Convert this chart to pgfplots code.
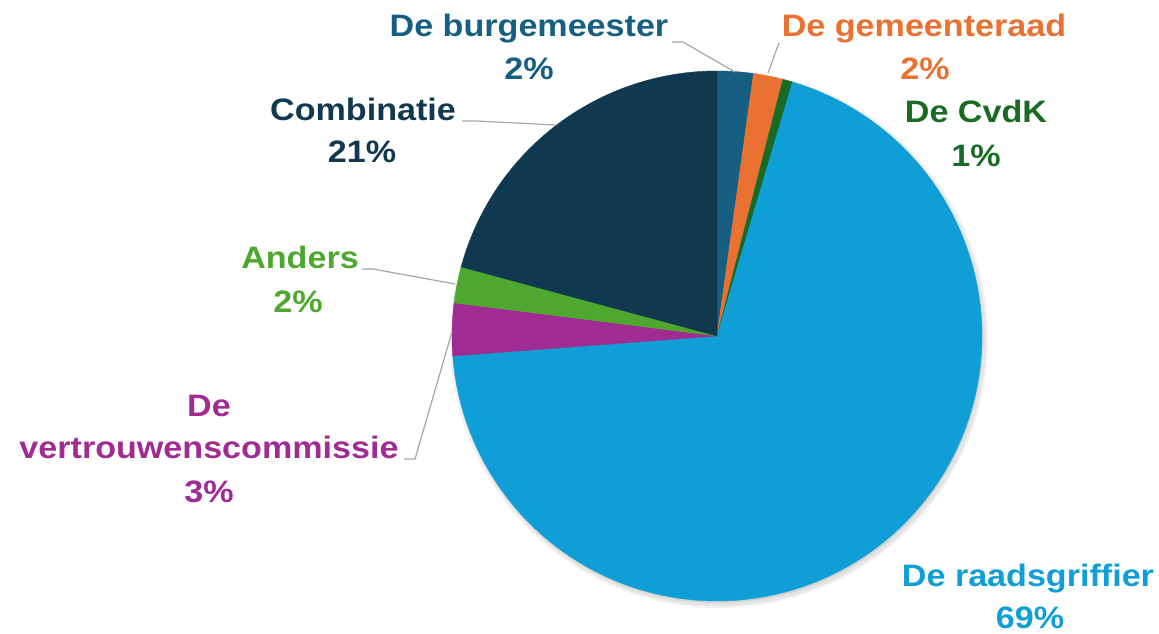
\documentclass[border=0pt]{standalone}
\usepackage{pgfplots}
\usepackage{pgfplotstable}
\pgfplotsset{compat=1.18}
\usepackage{fontspec}
\setmainfont{Liberation Sans}[FakeStretch=1.1]
\definecolor{c0}{HTML}{156082}
\definecolor{c1}{HTML}{E97132}
\definecolor{c2}{HTML}{196B24}
\definecolor{c3}{HTML}{0F9ED5}
\definecolor{c4}{HTML}{A02B93}
\definecolor{c5}{HTML}{4EA72E}
\definecolor{c6}{HTML}{10394F}
\definecolor{leader}{HTML}{A6A6A6}
\newcommand{\lblfont}{\fontsize{31}{37}\selectfont\bfseries}

% slice shares (percent), clockwise from 12 o'clock
\pgfplotstableread{
idx pct
0 2.2
1 1.8
2 0.6
3 69.2
4 3.2
5 2.2
6 20.8
}\piedata
\pgfplotstablecreatecol[create col/expr accum={\pgfmathaccuma + \thisrow{pct}}{0}]{cum}\piedata

\begin{document}
\foreach \i in {0,...,6}{%
  \pgfplotstablegetelem{\i}{cum}\of\piedata
  \pgfmathsetmacro\tmpE{3.6*\pgfplotsretval}%
  \pgfplotstablegetelem{\i}{pct}\of\piedata
  \pgfmathsetmacro\tmpS{\tmpE-3.6*\pgfplotsretval}%
  \expandafter\xdef\csname angE\i\endcsname{\tmpE}%
  \expandafter\xdef\csname angS\i\endcsname{\tmpS}%
}%
\begin{tikzpicture}
\begin{axis}[width=1159pt, height=633pt, scale only axis,
  xmin=0, xmax=1159, ymin=-633, ymax=0, hide axis, clip=false]
% soft shadow behind the pie
\fill[black, opacity=0.05] (axis cs:719,-339) circle[radius=269pt];
\fill[black, opacity=0.06] (axis cs:719,-339) circle[radius=267pt];
\fill[black, opacity=0.08] (axis cs:718,-338) circle[radius=265pt];
\pgfplotsinvokeforeach{0,...,6}{%
  \addplot[fill=c#1, draw=c#1, line width=0.4pt,
    domain=\csname angS#1\endcsname:\csname angE#1\endcsname,
    samples=120, variable=\t]
    ({717+265*sin(\t)}, {-336+265*cos(\t)}) -- (axis cs:717,-336) -- cycle;
}
% leader lines
\draw[leader, line width=1.2pt] (axis cs:672,-42) -- (axis cs:683,-42) -- (axis cs:735,-72);
\draw[leader, line width=1.2pt] (axis cs:779,-43) -- (axis cs:768,-73);
\draw[leader, line width=1.2pt] (axis cs:462,-121) -- (axis cs:476,-121) -- (axis cs:556,-125);
\draw[leader, line width=1.2pt] (axis cs:362,-269) -- (axis cs:373,-269) -- (axis cs:455,-284);
\draw[leader, line width=1.2pt] (axis cs:404,-459) -- (axis cs:415,-459) -- (axis cs:452,-332);
% labels
\node[anchor=base, text=c0, font=\lblfont] at (axis cs:529,-37) {De burgemeester};
\node[anchor=base, text=c0, font=\lblfont] at (axis cs:529,-80) {2\%};
\node[anchor=base, text=c1, font=\lblfont] at (axis cs:924,-37) {De gemeenteraad};
\node[anchor=base, text=c1, font=\lblfont] at (axis cs:925,-80) {2\%};
\node[anchor=base, text=c2, font=\lblfont] at (axis cs:976,-123) {De CvdK};
\node[anchor=base, text=c2, font=\lblfont] at (axis cs:976,-167) {1\%};
\node[anchor=base, text=c6, font=\lblfont] at (axis cs:363,-121) {Combinatie};
\node[anchor=base, text=c6, font=\lblfont] at (axis cs:362,-163) {21\%};
\node[anchor=base, text=c5, font=\lblfont] at (axis cs:300,-269) {Anders};
\node[anchor=base, text=c5, font=\lblfont] at (axis cs:298,-312) {2\%};
\node[anchor=base, text=c4, font=\lblfont] at (axis cs:209,-416) {De};
\node[anchor=base, text=c4, font=\lblfont] at (axis cs:209,-458) {vertrouwenscommissie};
\node[anchor=base, text=c4, font=\lblfont] at (axis cs:209,-502) {3\%};
\node[anchor=base, text=c3, font=\lblfont] at (axis cs:1028,-586) {De raadsgriffier};
\node[anchor=base, text=c3, font=\lblfont] at (axis cs:1030,-628) {69\%};
\end{axis}
\pgfresetboundingbox
\path (0,0) rectangle (1159pt,633pt);
\end{tikzpicture}
\end{document}
